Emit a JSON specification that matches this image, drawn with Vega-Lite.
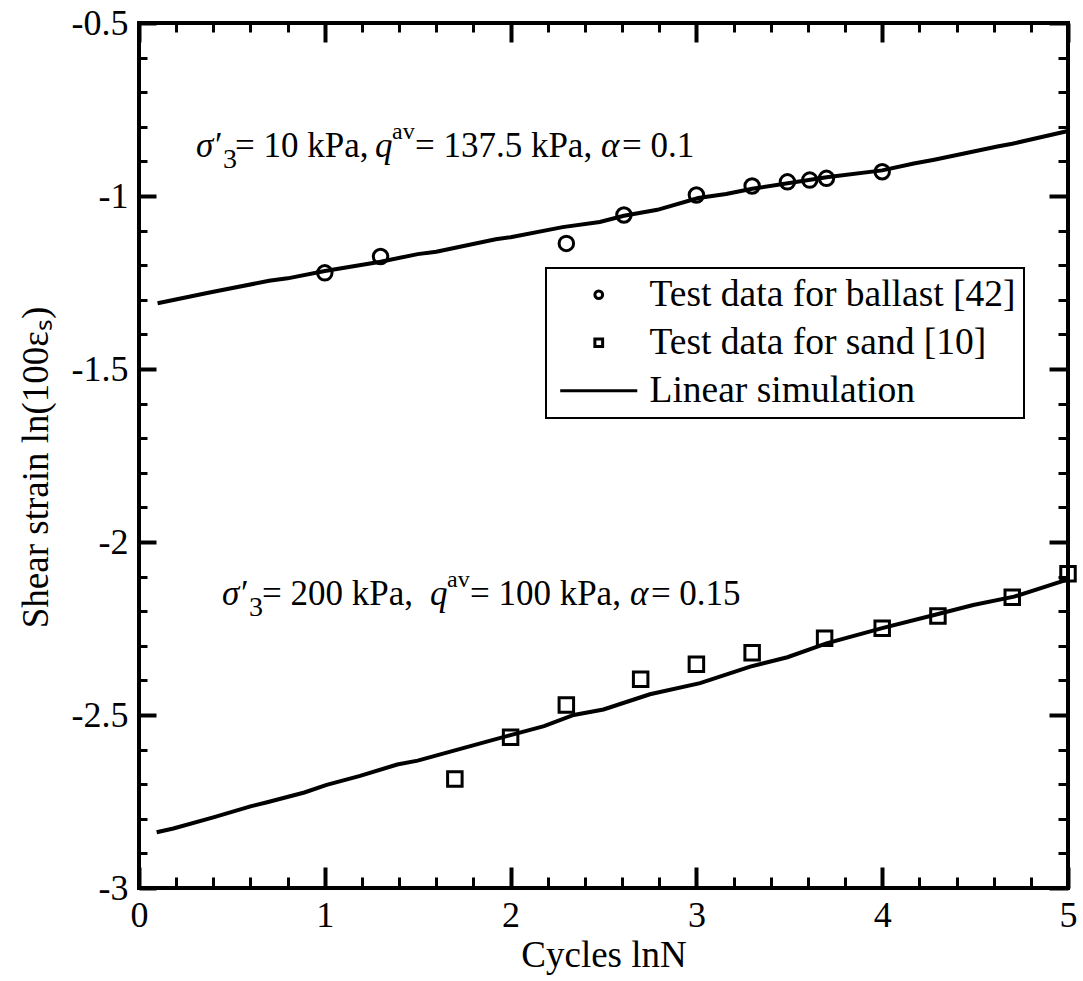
{
  "$schema": "https://vega.github.io/schema/vega-lite/v6.json",
  "width": 929,
  "height": 865,
  "autosize": "none",
  "padding": {"left": 139, "top": 23, "right": 15, "bottom": 93},
  "background": "white",
  "config": {
    "view": {"stroke": "black", "strokeWidth": 4},
    "font": "Liberation Serif",
    "axis": {
      "grid": false,
      "domain": false,
      "tickColor": "black",
      "labelColor": "black",
      "titleColor": "black",
      "labelFont": "Liberation Serif",
      "titleFont": "Liberation Serif",
      "titleFontWeight": "normal",
      "labelFontSize": 36,
      "titleFontSize": 37
    },
    "legend": {
      "orient": "none",
      "legendX": 407,
      "legendY": 245,
      "strokeColor": "black",
      "strokeWidth": 2,
      "fillColor": "white",
      "padding": 8,
      "labelFont": "Liberation Serif",
      "labelFontSize": 37.5,
      "labelColor": "black",
      "labelLimit": 600,
      "symbolSize": 60,
      "symbolStrokeWidth": 3,
      "symbolStrokeColor": "black",
      "symbolFillColor": "transparent",
      "symbolOffset": 26,
      "labelOffset": 32,
      "rowPadding": 9
    }
  },
  "datasets": {
    "sim": [
      {"curve": "ballast", "x": 0.1, "y": -1.310},
      {"curve": "ballast", "x": 0.38, "y": -1.279},
      {"curve": "ballast", "x": 0.7, "y": -1.245},
      {"curve": "ballast", "x": 0.8, "y": -1.238},
      {"curve": "ballast", "x": 1.0, "y": -1.217},
      {"curve": "ballast", "x": 1.3, "y": -1.190},
      {"curve": "ballast", "x": 1.5, "y": -1.168},
      {"curve": "ballast", "x": 1.6, "y": -1.161},
      {"curve": "ballast", "x": 1.92, "y": -1.125},
      {"curve": "ballast", "x": 2.0, "y": -1.119},
      {"curve": "ballast", "x": 2.28, "y": -1.090},
      {"curve": "ballast", "x": 2.48, "y": -1.075},
      {"curve": "ballast", "x": 2.61, "y": -1.057},
      {"curve": "ballast", "x": 2.79, "y": -1.040},
      {"curve": "ballast", "x": 3.01, "y": -1.006},
      {"curve": "ballast", "x": 3.16, "y": -0.994},
      {"curve": "ballast", "x": 3.3, "y": -0.979},
      {"curve": "ballast", "x": 3.7, "y": -0.946},
      {"curve": "ballast", "x": 4.0, "y": -0.926},
      {"curve": "ballast", "x": 4.17, "y": -0.906},
      {"curve": "ballast", "x": 4.28, "y": -0.895},
      {"curve": "ballast", "x": 4.62, "y": -0.857},
      {"curve": "ballast", "x": 4.7, "y": -0.849},
      {"curve": "ballast", "x": 5.0, "y": -0.812},
      {"curve": "sand", "x": 0.095, "y": -2.839},
      {"curve": "sand", "x": 0.185, "y": -2.828},
      {"curve": "sand", "x": 0.4, "y": -2.796},
      {"curve": "sand", "x": 0.6, "y": -2.764},
      {"curve": "sand", "x": 0.69, "y": -2.752},
      {"curve": "sand", "x": 0.89, "y": -2.724},
      {"curve": "sand", "x": 1.01, "y": -2.702},
      {"curve": "sand", "x": 1.19, "y": -2.676},
      {"curve": "sand", "x": 1.39, "y": -2.643},
      {"curve": "sand", "x": 1.5, "y": -2.632},
      {"curve": "sand", "x": 1.71, "y": -2.601},
      {"curve": "sand", "x": 2.0, "y": -2.558},
      {"curve": "sand", "x": 2.18, "y": -2.532},
      {"curve": "sand", "x": 2.34, "y": -2.500},
      {"curve": "sand", "x": 2.5, "y": -2.484},
      {"curve": "sand", "x": 2.75, "y": -2.440},
      {"curve": "sand", "x": 3.02, "y": -2.408},
      {"curve": "sand", "x": 3.29, "y": -2.360},
      {"curve": "sand", "x": 3.49, "y": -2.333},
      {"curve": "sand", "x": 3.7, "y": -2.293},
      {"curve": "sand", "x": 4.0, "y": -2.249},
      {"curve": "sand", "x": 4.28, "y": -2.211},
      {"curve": "sand", "x": 4.49, "y": -2.182},
      {"curve": "sand", "x": 4.71, "y": -2.158},
      {"curve": "sand", "x": 5.0, "y": -2.108}
    ],
    "pts": [
      {"series": "Test data for ballast [42]", "x": 1.0, "y": -1.222},
      {"series": "Test data for ballast [42]", "x": 1.3, "y": -1.175},
      {"series": "Test data for ballast [42]", "x": 2.3, "y": -1.137},
      {"series": "Test data for ballast [42]", "x": 2.61, "y": -1.055},
      {"series": "Test data for ballast [42]", "x": 3.0, "y": -0.997},
      {"series": "Test data for ballast [42]", "x": 3.3, "y": -0.971},
      {"series": "Test data for ballast [42]", "x": 3.49, "y": -0.959},
      {"series": "Test data for ballast [42]", "x": 3.61, "y": -0.954},
      {"series": "Test data for ballast [42]", "x": 3.7, "y": -0.949},
      {"series": "Test data for ballast [42]", "x": 4.0, "y": -0.930},
      {"series": "Test data for sand [10]", "x": 1.7, "y": -2.685},
      {"series": "Test data for sand [10]", "x": 2.0, "y": -2.564},
      {"series": "Test data for sand [10]", "x": 2.3, "y": -2.471},
      {"series": "Test data for sand [10]", "x": 2.7, "y": -2.397},
      {"series": "Test data for sand [10]", "x": 3.0, "y": -2.353},
      {"series": "Test data for sand [10]", "x": 3.3, "y": -2.320},
      {"series": "Test data for sand [10]", "x": 3.69, "y": -2.278},
      {"series": "Test data for sand [10]", "x": 4.0, "y": -2.249},
      {"series": "Test data for sand [10]", "x": 4.3, "y": -2.214},
      {"series": "Test data for sand [10]", "x": 4.7, "y": -2.160},
      {"series": "Test data for sand [10]", "x": 5.0, "y": -2.092}
    ],
    "roman": [
      {"x": 0.409, "y": -0.887, "t": "′"},
      {"x": 0.517, "y": -0.887, "t": "= 10 kPa,"},
      {"x": 1.485, "y": -0.887, "t": "= 137.5 kPa,"},
      {"x": 2.6, "y": -0.887, "t": "= 0.1"},
      {"x": 0.549, "y": -2.182, "t": "′"},
      {"x": 0.662, "y": -2.182, "t": "= 200 kPa,"},
      {"x": 1.781, "y": -2.182, "t": "= 100 kPa,"},
      {"x": 2.755, "y": -2.182, "t": "= 0.15"}
    ],
    "italic": [
      {"x": 0.307, "y": -0.887, "t": "σ"},
      {"x": 1.27, "y": -0.887, "t": "q"},
      {"x": 2.487, "y": -0.887, "t": "α"},
      {"x": 0.447, "y": -2.182, "t": "σ"},
      {"x": 1.566, "y": -2.182, "t": "q"},
      {"x": 2.643, "y": -2.182, "t": "α"}
    ],
    "sub": [
      {"x": 0.452, "y": -0.92, "t": "3"},
      {"x": 0.592, "y": -2.215, "t": "3"}
    ],
    "sup": [
      {"x": 1.362, "y": -0.835, "t": "av"},
      {"x": 1.658, "y": -2.13, "t": "av"}
    ]
  },
  "resolve": {"axis": {"x": "independent", "y": "independent"}},
  "layer": [
    {
      "data": {"name": "sim"},
      "mark": {"type": "line", "color": "black", "strokeWidth": 4},
      "encoding": {
        "x": {
          "field": "x", "type": "quantitative",
          "scale": {"domain": [0, 5], "nice": false, "zero": false},
          "axis": {
            "orient": "bottom",
            "values": [0, 1, 2, 3, 4, 5],
            "tickSize": -21,
            "tickWidth": 4,
            "labelPadding": 31,
            "labelExpr": "format(datum.value, '~g')",
            "labelFlush": false,
            "title": "Cycles lnN",
            "titlePadding": 4
          }
        },
        "y": {
          "field": "y", "type": "quantitative",
          "scale": {"domain": [-3, -0.5], "nice": false, "zero": false},
          "axis": {
            "orient": "left",
            "values": [-3, -2.5, -2, -1.5, -1, -0.5],
            "tickSize": -17,
            "tickWidth": 4,
            "labelPadding": 28,
            "labelExpr": "datum.value < 0 ? '-' + format(-datum.value, '~g') : format(datum.value, '~g')",
            "labelFlush": false,
            "title": "Shear strain ln(100εₛ)",
            "titlePadding": 16,
            "titleY": 444
          }
        },
        "detail": {"field": "curve"}
      }
    },
    {
      "data": {"name": "pts"},
      "mark": {"type": "point", "filled": false, "color": "black", "strokeWidth": 3, "size": 210, "opacity": 1},
      "encoding": {
        "x": {
          "field": "x", "type": "quantitative",
          "axis": {
            "orient": "bottom",
            "values": [0.2, 0.4, 0.6, 0.8, 1.2, 1.4, 1.6, 1.8, 2.2, 2.4, 2.6, 2.8, 3.2, 3.4, 3.6, 3.8, 4.2, 4.4, 4.6, 4.8],
            "tickSize": -11,
            "tickWidth": 3,
            "labels": false,
            "title": null
          }
        },
        "y": {
          "field": "y", "type": "quantitative",
          "axis": {
            "orient": "left",
            "values": [-2.9, -2.8, -2.7, -2.6, -2.4, -2.3, -2.2, -2.1, -1.9, -1.8, -1.7, -1.6, -1.4, -1.3, -1.2, -1.1, -0.9, -0.8, -0.7, -0.6],
            "tickSize": -8,
            "tickWidth": 3,
            "labels": false,
            "title": null
          }
        },
        "shape": {
          "field": "series", "type": "nominal",
          "scale": {
            "domain": ["Test data for ballast [42]", "Test data for sand [10]", "Linear simulation"],
            "range": ["circle", "square", "M-9.95,0H9.95"]
          },
          "legend": {"title": null}
        }
      }
    },
    {
      "data": {"name": "roman"},
      "mark": {"type": "text", "align": "left", "baseline": "alphabetic", "font": "Liberation Serif", "fontSize": 35, "color": "black"},
      "encoding": {
        "x": {
          "field": "x", "type": "quantitative",
          "axis": {
            "orient": "top",
            "values": [0, 1, 2, 3, 4, 5],
            "tickSize": -19,
            "tickWidth": 4,
            "labels": false,
            "title": null
          }
        },
        "y": {
          "field": "y", "type": "quantitative",
          "axis": {
            "orient": "right",
            "values": [-3, -2.5, -2, -1.5, -1, -0.5],
            "tickSize": -19,
            "tickWidth": 4,
            "labels": false,
            "title": null
          }
        },
        "text": {"field": "t"}
      }
    },
    {
      "data": {"name": "italic"},
      "mark": {"type": "text", "align": "left", "baseline": "alphabetic", "font": "Liberation Serif", "fontStyle": "italic", "fontSize": 35, "color": "black"},
      "encoding": {
        "x": {
          "field": "x", "type": "quantitative",
          "axis": {
            "orient": "top",
            "values": [0.2, 0.4, 0.6, 0.8, 1.2, 1.4, 1.6, 1.8, 2.2, 2.4, 2.6, 2.8, 3.2, 3.4, 3.6, 3.8, 4.2, 4.4, 4.6, 4.8],
            "tickSize": -9,
            "tickWidth": 3,
            "labels": false,
            "title": null
          }
        },
        "y": {
          "field": "y", "type": "quantitative",
          "axis": {
            "orient": "right",
            "values": [-2.9, -2.8, -2.7, -2.6, -2.4, -2.3, -2.2, -2.1, -1.9, -1.8, -1.7, -1.6, -1.4, -1.3, -1.2, -1.1, -0.9, -0.8, -0.7, -0.6],
            "tickSize": -10,
            "tickWidth": 3,
            "labels": false,
            "title": null
          }
        },
        "text": {"field": "t"}
      }
    },
    {
      "data": {"name": "sub"},
      "mark": {"type": "text", "align": "left", "baseline": "alphabetic", "font": "Liberation Serif", "fontSize": 28, "color": "black"},
      "encoding": {
        "x": {"field": "x", "type": "quantitative", "axis": null},
        "y": {"field": "y", "type": "quantitative", "axis": null},
        "text": {"field": "t"}
      }
    },
    {
      "data": {"name": "sup"},
      "mark": {"type": "text", "align": "left", "baseline": "alphabetic", "font": "Liberation Serif", "fontSize": 24, "color": "black"},
      "encoding": {
        "x": {"field": "x", "type": "quantitative", "axis": null},
        "y": {"field": "y", "type": "quantitative", "axis": null},
        "text": {"field": "t"}
      }
    }
  ]
}
